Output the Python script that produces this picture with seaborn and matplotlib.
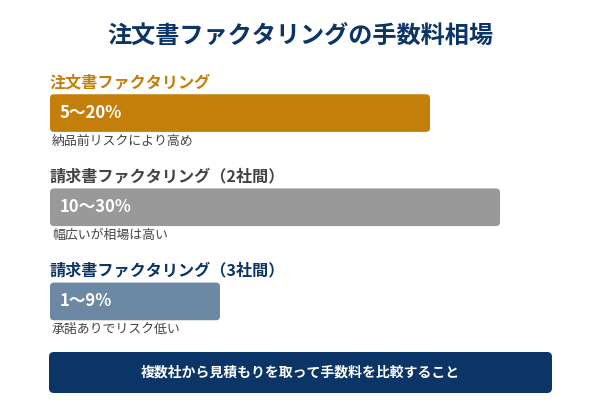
import pandas as pd
import matplotlib.pyplot as plt
import seaborn as sns
from matplotlib.patches import FancyBboxPatch

# データ
categories = ['注文書ファクタリング', '請求書ファクタリング（2社間）', '請求書ファクタリング（3社間）']
bar_widths = [76, 90, 34]          # 枠に対するバーの長さ（%）
range_labels = ['5〜20%', '10〜30%', '1〜9%']
notes = ['納品前リスクにより高め', '幅広いが相場は高い', '承諾ありでリスク低い']
title = '注文書ファクタリングの手数料相場'
footer = '複数社から見積もりを取って手数料を比較すること'

df = pd.DataFrame({'category': categories, 'width': bar_widths})

bar_colors = ['#C47F0A', '#999999', '#6B88A5']
label_colors = ['#C47F0A', '#444444', '#0B3566']
navy = '#0B3566'

sns.set_theme(style='white')
plt.rcParams['font.family'] = ['Noto Sans CJK JP', 'DejaVu Sans']

fig = plt.figure(figsize=(6, 4), dpi=100)
fig.patch.set_facecolor('white')
ax = fig.add_axes([50 / 600, (400 - 348.5) / 400, 500 / 600, (348.5 - 66) / 400])

bar_h = 0.40
sns.barplot(data=df, x='width', y='category', hue='category', palette=bar_colors,
            saturation=1, orient='h', width=bar_h, legend=False, ax=ax)
ax.set_xlim(0, 100)
ax.set_ylim(2.5, -0.5)
ax.axis('off')

# 角丸のバーに置き換える
px_x = ax.transData.transform((1, 0))[0] - ax.transData.transform((0, 0))[0]
px_y = abs(ax.transData.transform((0, 1))[1] - ax.transData.transform((0, 0))[1])
for p in list(ax.patches):
    x, y, w, h = p.get_x(), p.get_y(), p.get_width(), p.get_height()
    rb = FancyBboxPatch((x, y), w, h,
                        boxstyle=f'round,pad=0,rounding_size={4 / px_x}',
                        mutation_aspect=px_x / px_y,
                        facecolor=p.get_facecolor(), edgecolor='none')
    p.remove()
    ax.add_patch(rb)

for i in range(len(categories)):
    ax.annotate(categories[i], (0, i - bar_h / 2), xytext=(0, 8.5), textcoords='offset points',
                ha='left', va='center', fontsize=11.6, fontweight='bold', color=label_colors[i],
                annotation_clip=False)
    ax.annotate(range_labels[i], (0, i), xytext=(7, 0), textcoords='offset points',
                ha='left', va='center', fontsize=12, fontweight='bold', color='white')
    ax.annotate(notes[i], (0, i + bar_h / 2), xytext=(1.5, -7), textcoords='offset points',
                ha='left', va='center', fontsize=9.3, color='#444444', annotation_clip=False)

fig.text(0.5, 1 - 36 / 400, title, ha='center', va='center', fontsize=17.4,
         fontweight='bold', color=navy)

banner = FancyBboxPatch((49 / 600, 1 - 393 / 400), 503 / 600, 41 / 400,
                        boxstyle='round,pad=0,rounding_size=0.008',
                        mutation_aspect=1.5, transform=fig.transFigure,
                        facecolor=navy, edgecolor='none')
fig.patches.append(banner)
fig.text(0.5, 1 - 373 / 400, footer, ha='center', va='center', fontsize=10,
         fontweight='bold', color='white')

fig.savefig('out.png', dpi=100)
